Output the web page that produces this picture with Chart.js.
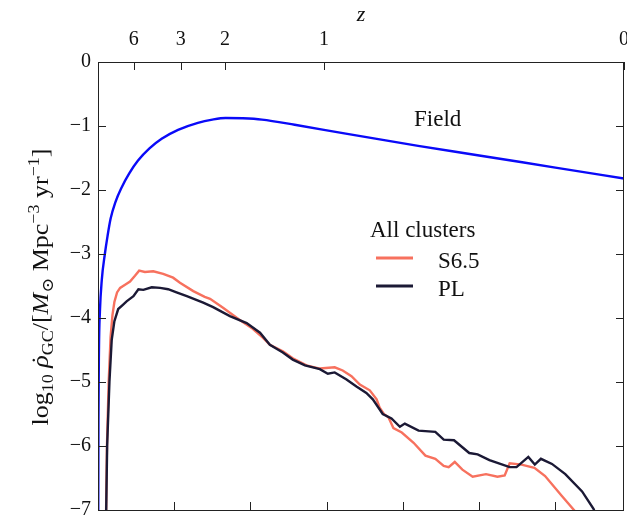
<!DOCTYPE html>
<html>
<head>
<meta charset="utf-8">
<script src="https://cdn.jsdelivr.net/npm/chart.js@4.4.1/dist/chart.umd.min.js"></script>
<style>
  html, body { margin: 0; padding: 0; background: #fff; }
  #wrap { width: 627px; height: 515px; }
</style>
</head>
<body>
<div id="wrap"><canvas id="sfr" width="627" height="515"></canvas></div>
<script>
// ─── Data: cosmic time (Gyr) vs log10 GC formation rate density ─────────
const tMax = 13.8;

const fieldT = [0.005, 0.012, 0.025, 0.05, 0.1, 0.18, 0.25, 0.33, 0.45, 0.62, 0.82, 1.05, 1.35, 1.67, 2.1, 2.62, 3.0, 3.35, 3.8, 4.3, 5.16, 6.5, 8.4, 10.0, 12.0, 13.8];
const fieldRate = [-7.6, -5.6, -4.5, -3.9, -3.4, -3.0, -2.72, -2.45, -2.2, -1.96, -1.74, -1.54, -1.35, -1.2, -1.06, -0.95, -0.9, -0.875, -0.88, -0.9, -0.98, -1.12, -1.31, -1.46, -1.65, -1.82];

const s65T = [0.20, 0.235, 0.28, 0.33, 0.38, 0.43, 0.50, 0.58, 0.71, 0.84, 0.97, 1.08, 1.23, 1.45, 1.71, 1.97, 2.15, 2.50, 2.80, 2.94, 3.28, 3.72, 4.06, 4.33, 4.51, 4.85, 5.11, 5.47, 5.82, 6.21, 6.42, 6.65, 6.87, 7.13, 7.31, 7.39, 7.50, 7.62, 7.75, 7.97, 8.28, 8.59, 8.85, 9.07, 9.20, 9.36, 9.56, 9.83, 10.18, 10.48, 10.67, 10.80, 11.11, 11.45, 11.73, 12.17, 12.53, 12.8];
const s65Rate = [-7.6, -6.0, -5.0, -4.3, -3.95, -3.75, -3.6, -3.53, -3.48, -3.43, -3.34, -3.26, -3.28, -3.27, -3.31, -3.37, -3.45, -3.58, -3.67, -3.70, -3.84, -4.03, -4.17, -4.31, -4.42, -4.52, -4.63, -4.74, -4.79, -4.77, -4.82, -4.91, -5.04, -5.13, -5.27, -5.40, -5.50, -5.55, -5.72, -5.79, -5.95, -6.15, -6.2, -6.31, -6.33, -6.25, -6.37, -6.48, -6.44, -6.48, -6.46, -6.27, -6.29, -6.34, -6.47, -6.78, -7.03, -7.3];

const plT = [0.20, 0.24, 0.30, 0.36, 0.43, 0.53, 0.66, 0.75, 0.93, 1.06, 1.19, 1.41, 1.63, 1.84, 2.06, 2.33, 2.76, 3.02, 3.46, 3.90, 4.25, 4.51, 4.85, 5.11, 5.43, 5.82, 6.03, 6.21, 6.52, 6.78, 7.04, 7.21, 7.47, 7.70, 7.92, 8.05, 8.41, 8.85, 9.07, 9.34, 9.74, 9.96, 10.27, 10.80, 10.98, 11.29, 11.46, 11.62, 11.91, 12.26, 12.70, 13.0, 13.2];
const plRate = [-7.6, -6.0, -5.0, -4.34, -4.05, -3.86, -3.79, -3.74, -3.66, -3.55, -3.56, -3.52, -3.53, -3.55, -3.60, -3.66, -3.76, -3.83, -3.97, -4.08, -4.23, -4.42, -4.54, -4.65, -4.74, -4.80, -4.87, -4.85, -4.96, -5.07, -5.17, -5.27, -5.5, -5.57, -5.70, -5.65, -5.76, -5.78, -5.90, -5.91, -6.11, -6.13, -6.22, -6.33, -6.33, -6.17, -6.29, -6.20, -6.28, -6.44, -6.71, -6.98, -7.3];

// top axis: redshift labels placed at the matching cosmic time
const zLabels = ['6', '3', '2', '1', '0'];
const zTimes = [0.94, 2.17, 3.33, 5.93, 13.8];
// bottom axis tick marks (Gyr), labels not shown
const timeTicks = [2, 4, 6, 8, 10, 12];

const SERIF = '"Liberation Serif", "DejaVu Serif", serif';
const RED = '#F7715E';
const NAVY = '#1B1935';
const BLUE = '#0A0AF8';

const pts = (xs, ys) => xs.map((x, i) => ({ x: x, y: ys[i] }));

// keep the plot box fixed: no extra room for overhanging tick labels
const noPad = s => { s.paddingTop = 0; s.paddingBottom = 0; s.paddingLeft = 0; s.paddingRight = 0; };

// frame, inward ticks, in-plot labels and the rotated y title
const decorations = {
    id: 'decorations',
    afterDraw(chart) {
        const { ctx, chartArea: a, scales } = chart;
        const xs = scales.x, ys = scales.y;
        const tick = 8;
        ctx.save();
        ctx.strokeStyle = '#222';
        ctx.lineWidth = 1;
        ctx.strokeRect(a.left + 0.5, a.top + 0.5, a.right - a.left - 1, a.bottom - a.top);
        ctx.beginPath();
        for (let v = -7; v <= 0; v++) {
            const y = Math.round(ys.getPixelForValue(v)) + 0.5;
            ctx.moveTo(a.left, y); ctx.lineTo(a.left + tick, y);
            ctx.moveTo(a.right, y); ctx.lineTo(a.right - tick, y);
        }
        zTimes.forEach(t => {
            const x = Math.round(xs.getPixelForValue(t)) + 0.5;
            ctx.moveTo(x, a.top); ctx.lineTo(x, a.top + tick);
        });
        timeTicks.forEach(t => {
            const x = Math.round(xs.getPixelForValue(t)) + 0.5;
            ctx.moveTo(x, a.bottom); ctx.lineTo(x, a.bottom - tick);
        });
        ctx.stroke();

        // text labels inside the plot
        ctx.fillStyle = '#111';
        ctx.font = '23px ' + SERIF;
        ctx.textBaseline = 'alphabetic';
        ctx.textAlign = 'left';
        ctx.fillText('Field', 414, 126);
        ctx.fillText('All clusters', 370, 237);
        ctx.fillText('S6.5', 438, 268);
        ctx.fillText('PL', 438, 296);

        ctx.lineWidth = 3;
        ctx.strokeStyle = RED;
        ctx.beginPath(); ctx.moveTo(376, 258); ctx.lineTo(413, 258); ctx.stroke();
        ctx.strokeStyle = NAVY;
        ctx.beginPath(); ctx.moveTo(376, 286); ctx.lineTo(413, 286); ctx.stroke();

        drawYTitle(ctx, 48, 287, 277);
        ctx.restore();
    }
};

function drawYTitle(ctx, x, y, span) {
    const big = 23, small = 16;
    const runs = [
        { s: 'log', size: big, dy: 0 },
        { s: '10', size: small, dy: 5 },
        { s: ' ', size: big, dy: 0 },
        { s: 'ρ', size: big, dy: 0, italic: true, dot: true },
        { s: 'GC', size: small, dy: 5 },
        { s: '/[', size: big, dy: 0 },
        { s: 'M', size: big, dy: 0, italic: true },
        { s: '⊙', size: small, dy: 5 },
        { s: ' Mpc', size: big, dy: 0 },
        { s: '−3', size: small, dy: -9 },
        { s: ' yr', size: big, dy: 0 },
        { s: '−1', size: small, dy: -9 },
        { s: ']', size: big, dy: 0 }
    ];
    const fontOf = r => (r.italic ? 'italic ' : '') + r.size + 'px ' + SERIF;
    let total = 0;
    runs.forEach(r => { ctx.font = fontOf(r); r.w = ctx.measureText(r.s).width; total += r.w; });
    ctx.save();
    ctx.translate(x, y);
    ctx.rotate(-Math.PI / 2);
    ctx.scale(span / total, 1);
    ctx.fillStyle = '#111';
    ctx.textBaseline = 'alphabetic';
    let cx = -total / 2;
    runs.forEach(r => {
        ctx.font = fontOf(r);
        ctx.textAlign = 'left';
        ctx.fillText(r.s, cx, r.dy);
        if (r.dot) {
            ctx.font = big + 'px ' + SERIF;
            ctx.textAlign = 'center';
            ctx.fillText('˙', cx + r.w * 0.62, 0);
        }
        cx += r.w;
    });
    ctx.restore();
}

new Chart(document.getElementById('sfr'), {
    type: 'line',
    data: {
        datasets: [
            {
                label: 'Field',
                data: pts(fieldT, fieldRate),
                borderColor: BLUE,
                borderWidth: 2.4,
                cubicInterpolationMode: 'monotone',
                pointRadius: 0
            },
            {
                label: 'PL',
                data: pts(plT, plRate),
                borderColor: NAVY,
                borderWidth: 2.4,
                tension: 0,
                pointRadius: 0
            },
            {
                label: 'S6.5',
                data: pts(s65T, s65Rate),
                borderColor: RED,
                borderWidth: 2.4,
                tension: 0,
                pointRadius: 0
            }
        ]
    },
    options: {
        responsive: false,
        animation: false,
        layout: { padding: { left: 0, top: 0, right: 3, bottom: 5 } },
        plugins: {
            legend: { display: false },
            tooltip: { enabled: false }
        },
        scales: {
            x: {
                type: 'linear',
                min: 0,
                max: tMax,
                position: 'bottom',
                ticks: { display: false },
                grid: { display: false, drawTicks: false },
                border: { display: false },
                afterFit: s => { s.height = 0; noPad(s); }
            },
            x2: {
                type: 'linear',
                min: 0,
                max: tMax,
                position: 'top',
                afterBuildTicks: s => { s.ticks = zTimes.map(v => ({ value: v })); },
                ticks: {
                    autoSkip: false,
                    maxRotation: 0,
                    padding: 10,
                    color: '#111',
                    font: { family: SERIF, size: 20 },
                    callback: v => zLabels[zTimes.indexOf(v)]
                },
                title: {
                    display: true,
                    text: 'z',
                    color: '#111',
                    font: { family: SERIF, size: 22, style: 'italic' },
                    padding: { top: 2, bottom: 0 }
                },
                grid: { display: false, drawTicks: false },
                border: { display: false },
                afterFit: s => { s.height = 62; noPad(s); }
            },
            y: {
                type: 'linear',
                min: -7,
                max: 0,
                position: 'left',
                ticks: {
                    stepSize: 1,
                    padding: 7,
                    color: '#111',
                    font: { family: SERIF, size: 20 },
                    callback: v => (v < 0 ? '\u2212' + Math.abs(v) : '0')
                },
                grid: { display: false, drawTicks: false },
                border: { display: false },
                afterFit: s => { s.width = 98; noPad(s); }
            }
        }
    },
    plugins: [decorations]
});
</script>
</body>
</html>
